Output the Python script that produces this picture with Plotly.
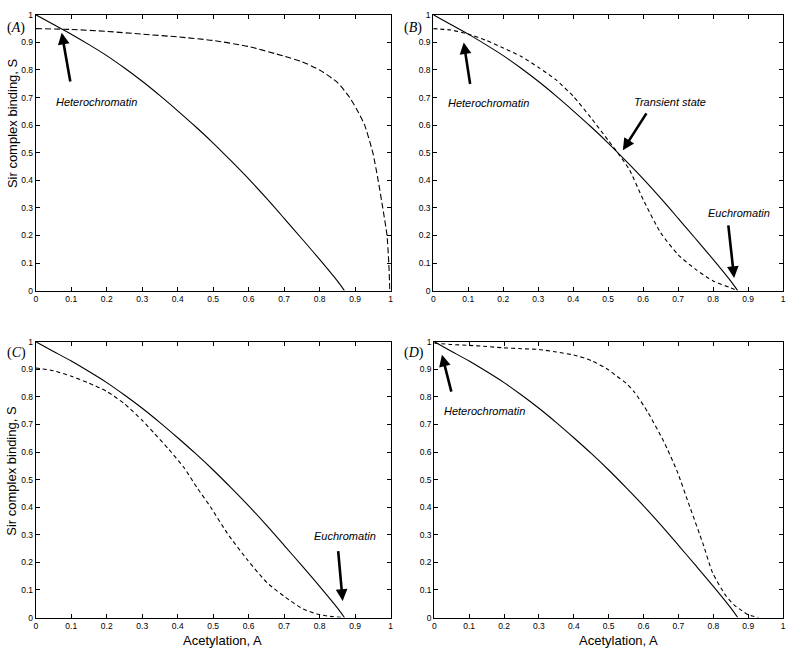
import plotly.graph_objects as go

# ---------------- data ----------------
acet_solid = [0, 0.05, 0.1, 0.15, 0.2, 0.25, 0.3, 0.35, 0.4, 0.45, 0.5, 0.55, 0.6, 0.65, 0.7, 0.75, 0.8, 0.85, 0.87]
sir_solid = [1.0, 0.965, 0.93, 0.892, 0.852, 0.807, 0.759, 0.707, 0.652, 0.595, 0.535, 0.471, 0.405, 0.335, 0.262, 0.188, 0.113, 0.035, 0.0]

acet_a = [0, 0.1, 0.2, 0.3, 0.4, 0.5, 0.6, 0.7, 0.75, 0.8, 0.85, 0.885, 0.91, 0.927, 0.95, 0.965, 0.978, 0.99, 0.995, 0.998]
sir_a = [0.95, 0.947, 0.94, 0.93, 0.92, 0.907, 0.885, 0.85, 0.83, 0.80, 0.755, 0.70, 0.645, 0.60, 0.50, 0.40, 0.30, 0.20, 0.10, 0.0]

acet_b = [0, 0.05, 0.1, 0.15, 0.2, 0.25, 0.3, 0.35, 0.4, 0.45, 0.5, 0.53, 0.56, 0.6, 0.65, 0.7, 0.75, 0.8, 0.85, 0.87]
sir_b = [0.95, 0.945, 0.93, 0.908, 0.88, 0.85, 0.81, 0.765, 0.705, 0.628, 0.545, 0.495, 0.44, 0.33, 0.21, 0.13, 0.077, 0.035, 0.01, 0.0]

acet_c = [0, 0.05, 0.1, 0.15, 0.2, 0.25, 0.3, 0.334, 0.375, 0.418, 0.455, 0.493, 0.54, 0.596, 0.652, 0.717, 0.754, 0.792, 0.83, 0.87]
sir_c = [0.905, 0.895, 0.875, 0.85, 0.82, 0.775, 0.715, 0.668, 0.61, 0.543, 0.47, 0.40, 0.305, 0.21, 0.126, 0.061, 0.031, 0.013, 0.004, 0.0]

acet_d = [0, 0.05, 0.1, 0.15, 0.2, 0.25, 0.3, 0.35, 0.4, 0.45, 0.5, 0.518, 0.55, 0.574, 0.612, 0.658, 0.696, 0.733, 0.77, 0.798, 0.836, 0.86, 0.882, 0.9, 0.93]
sir_d = [0.995, 0.99, 0.987, 0.983, 0.978, 0.975, 0.972, 0.963, 0.952, 0.932, 0.898, 0.88, 0.85, 0.817, 0.745, 0.638, 0.531, 0.40, 0.269, 0.162, 0.079, 0.045, 0.025, 0.01, 0.0]

tick_vals = [0, 0.1, 0.2, 0.3, 0.4, 0.5, 0.6, 0.7, 0.8, 0.9, 1]
tick_text = ["0", "0.1", "0.2", "0.3", "0.4", "0.5", "0.6", "0.7", "0.8", "0.9", "1"]

panel_labels = ["(<i>A</i>)", "(<i>B</i>)", "(<i>C</i>)", "(<i>D</i>)"]
y_title = "Sir complex binding, S"
x_title = "Acetylation, A"

# ---------------- figure ----------------
W, H = 800, 656
fig = go.Figure()

dashed = [(acet_a, sir_a), (acet_b, sir_b), (acet_c, sir_c), (acet_d, sir_d)]
dash_styles = ["6px,3px", "4px,3px", "4px,3px", "4px,3px"]

for i in range(4):
    xa = "x" if i == 0 else f"x{i+1}"
    ya = "y" if i == 0 else f"y{i+1}"
    fig.add_trace(go.Scatter(x=acet_solid, y=sir_solid, mode="lines",
                             line=dict(color="black", width=1.1, shape="spline", smoothing=0.8),
                             xaxis=xa, yaxis=ya, showlegend=False, hoverinfo="skip"))
    dx, dy = dashed[i]
    fig.add_trace(go.Scatter(x=dx, y=dy, mode="lines",
                             line=dict(color="black", width=1.1, dash=dash_styles[i], shape="spline", smoothing=0.6),
                             xaxis=xa, yaxis=ya, showlegend=False, hoverinfo="skip"))

# domains in pixels
px_x = [(34, 391), (434, 786), (34, 391), (435, 786)]
px_y = [(10, 290), (10, 290), (342, 622), (342, 622)]

tickfont = dict(family="Liberation Sans, Arial, sans-serif", size=8.5, color="black")
layout = {}
for i in range(4):
    xk = "xaxis" if i == 0 else f"xaxis{i+1}"
    yk = "yaxis" if i == 0 else f"yaxis{i+1}"
    x0, x1 = px_x[i]
    y0, y1 = px_y[i]
    ax_common = dict(range=[0, 1], tickmode="array", tickvals=tick_vals, ticktext=tick_text,
                     ticks="inside", ticklen=4, tickwidth=1, tickcolor="black",
                     showline=True, linecolor="black", linewidth=1, mirror="ticks",
                     showgrid=False, zeroline=False, tickfont=tickfont, fixedrange=True,
                     ticklabelposition="outside", ticklabeloverflow="allow")
    layout[xk] = dict(domain=[x0 / W, x1 / W], anchor="y" if i == 0 else f"y{i+1}", **ax_common)
    layout[yk] = dict(domain=[1 - y1 / H, 1 - y0 / H], anchor="x" if i == 0 else f"x{i+1}", **ax_common)

fig.update_layout(**layout)

annotations = []
# panel labels
label_pos = [(3, 23), (403, 23), (3, 353), (403, 353)]
for lab, (lx, ly) in zip(panel_labels, label_pos):
    annotations.append(dict(text=lab, x=lx / W, y=1 - ly / H, xref="paper", yref="paper",
                            xanchor="left", yanchor="middle", showarrow=False,
                            font=dict(family="Liberation Serif, Times New Roman, serif", size=14, color="black")))

# axis titles
title_font = dict(family="Liberation Sans, Arial, sans-serif", size=13, color="black")
for yc in (120, 473):
    annotations.append(dict(text=y_title, x=10 / W, y=1 - yc / H, xref="paper", yref="paper",
                            textangle=-90, showarrow=False, xanchor="center", yanchor="middle", font=title_font))
for xc in (222, 620):
    annotations.append(dict(text=x_title, x=xc / W, y=1 - 645 / H, xref="paper", yref="paper",
                            showarrow=False, xanchor="center", yanchor="middle", font=title_font))

# text labels and arrows: (panel, text, text x, text y, tail x, tail y, head x, head y)
label_font = dict(family="Liberation Sans, Arial, sans-serif", size=11, color="black")
notes = [
    (0, "Heterochromatin", 0.17, 0.685, 0.098, 0.753, 0.073, 0.935),
    (1, "Heterochromatin", 0.157, 0.68, 0.106, 0.744, 0.087, 0.90),
    (1, "Transient state", 0.676, 0.683, 0.612, 0.648, 0.542, 0.509),
    (1, "Euchromatin", 0.874, 0.28, 0.843, 0.242, 0.86, 0.046),
    (2, "Euchromatin", 0.871, 0.296, 0.852, 0.246, 0.865, 0.06),
    (3, "Heterochromatin", 0.143, 0.75, 0.05, 0.814, 0.022, 0.953),
]
for p, txt, tx, ty, ax_, ay_, hx, hy in notes:
    xr = "x" if p == 0 else f"x{p+1}"
    yr = "y" if p == 0 else f"y{p+1}"
    annotations.append(dict(text=f"<i>{txt}</i>", x=tx, y=ty, xref=xr, yref=yr, showarrow=False,
                            xanchor="center", yanchor="middle", font=label_font))
    annotations.append(dict(text="", x=hx, y=hy, ax=ax_, ay=ay_, xref=xr, yref=yr, axref=xr, ayref=yr,
                            showarrow=True, arrowhead=2, arrowsize=0.9, arrowwidth=2.6,
                            arrowcolor="black", standoff=0, startstandoff=0))

fig.update_layout(width=W, height=H, margin=dict(l=0, r=0, t=0, b=0),
                  paper_bgcolor="white", plot_bgcolor="white", annotations=annotations,
                  showlegend=False)

fig.write_html("out.html", config={"displayModeBar": False},
               post_script=("document.body.style.margin='0px';"
                            "document.body.style.overflow='hidden';"
                            "document.documentElement.style.overflow='hidden';"))
